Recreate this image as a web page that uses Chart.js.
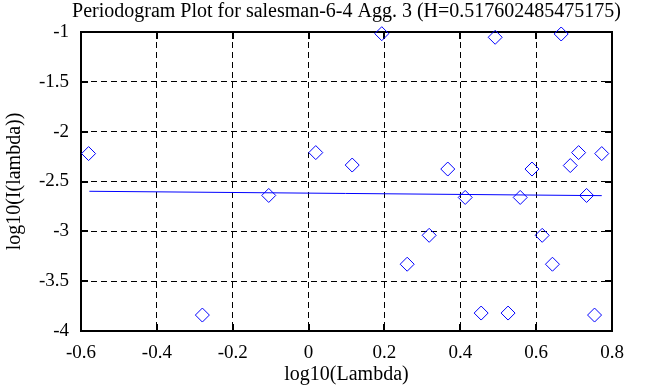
<!DOCTYPE html>
<html>
<head>
<meta charset="utf-8">
<script src="https://cdn.jsdelivr.net/npm/chart.js@4/dist/chart.umd.min.js"></script>
<style>
  body { margin: 0; background: #fff; }
  #wrap { width: 663px; height: 387px; }
</style>
</head>
<body>
<div id="wrap"><canvas id="chart1"></canvas></div>
<script>
// periodogram points: log10(lambda) and log10(I(lambda))
var logLambda = [-0.580, -0.280, -0.105, 0.019, 0.115, 0.193, 0.260, 0.318, 0.367, 0.413, 0.455, 0.492,
                 0.526, 0.558, 0.589, 0.616, 0.643, 0.666, 0.690, 0.712, 0.733, 0.754, 0.773];
var logPower = [-2.22, -3.84, -2.64, -2.21, -2.335, -1.017, -3.33, -3.04, -2.375, -2.66, -3.82, -1.053,
                -3.82, -2.66, -2.375, -3.04, -3.33, -1.02, -2.34, -2.21, -2.64, -3.84, -2.22];

// fitted line end points
var fitX = [-0.578, 0.773];
var fitY = [-2.598, -2.642];

var xTickLabels = ['-0.6', '-0.4', '-0.2', '0', '0.2', '0.4', '0.6', '0.8'];
var yTickLabels = ['-4', '-3.5', '-3', '-2.5', '-2', '-1.5', '-1'];

var titleText = 'Periodogram Plot for salesman-6-4 Agg. 3 (H=0.517602485475175)';
var serif = "'Liberation Serif', 'DejaVu Serif', serif";

function toPoints(xs, ys) {
  return xs.map(function (x, i) { return { x: x, y: ys[i] }; });
}

// box around the plot, small inward tick marks, and the title over the plot
var boxPlugin = {
  id: 'boxPlugin',
  beforeDatasetsDraw: function (chart) {
    var ctx = chart.ctx;
    var a = chart.chartArea;
    var xs = chart.scales.x, ys = chart.scales.y;
    ctx.save();
    ctx.strokeStyle = '#000';
    ctx.lineWidth = 2;
    ctx.beginPath();
    xs.ticks.forEach(function (t) {
      var px = Math.round(xs.getPixelForValue(t.value));
      ctx.moveTo(px, a.bottom); ctx.lineTo(px, a.bottom - 7);
      ctx.moveTo(px, a.top); ctx.lineTo(px, a.top + 7);
    });
    ys.ticks.forEach(function (t) {
      var py = Math.round(ys.getPixelForValue(t.value));
      ctx.moveTo(a.left, py); ctx.lineTo(a.left + 7, py);
      ctx.moveTo(a.right, py); ctx.lineTo(a.right - 7, py);
    });
    ctx.stroke();
    ctx.strokeRect(a.left, a.top, a.right - a.left, a.bottom - a.top);

    ctx.fillStyle = '#000';
    ctx.font = '20px ' + serif;
    ctx.textAlign = 'center';
    ctx.textBaseline = 'middle';
    ctx.fillText(titleText, (a.left + a.right) / 2, 12);
    ctx.restore();
  }
};

Chart.defaults.font.family = serif;
Chart.defaults.font.size = 19;
Chart.defaults.color = '#000';

var ctx1 = document.getElementById('chart1').getContext('2d');
var chart1 = new Chart(ctx1, {
  type: 'scatter',
  data: {
    datasets: [{
      label: 'fit',
      type: 'line',
      data: toPoints(fitX, fitY),
      borderColor: '#0000ff',
      borderWidth: 1,
      pointRadius: 0,
      fill: false
    }, {
      label: 'periodogram',
      data: toPoints(logLambda, logPower),
      pointStyle: 'rectRot',
      pointRadius: 7,
      pointBorderWidth: 1,
      borderColor: '#0000ff',
      backgroundColor: 'rgba(0,0,0,0)',
      clip: false
    }]
  },
  options: {
    responsive: true,
    maintainAspectRatio: false,
    animation: false,
    layout: { padding: { left: 0, right: 51, top: 32, bottom: 0 } },
    plugins: {
      legend: { display: false },
      tooltip: { enabled: false },
      title: { display: false }
    },
    scales: {
      x: {
        type: 'linear',
        min: -0.6,
        max: 0.8,
        afterFit: function (scale) { scale.height = 56; },
        ticks: {
          stepSize: 0.2,
          padding: 11,
          maxRotation: 0,
          callback: function (v, i) { return xTickLabels[i]; }
        },
        grid: { color: '#000', lineWidth: 1, drawTicks: false },
        border: { display: false, dash: [6, 4] },
        title: { display: true, text: 'log10(Lambda)', font: { size: 20 }, padding: { top: 0, bottom: 0 } }
      },
      y: {
        type: 'linear',
        min: -4,
        max: -1,
        afterFit: function (scale) { scale.width = 81; },
        ticks: {
          stepSize: 0.5,
          padding: 12,
          callback: function (v, i) { return yTickLabels[i]; }
        },
        grid: { color: '#000', lineWidth: 1, drawTicks: false },
        border: { display: false, dash: [6, 4] },
        title: { display: true, text: 'log10(I(lambda))', font: { size: 20 }, padding: { top: 3, bottom: 0 } }
      }
    }
  },
  plugins: [boxPlugin]
});
</script>
</body>
</html>
